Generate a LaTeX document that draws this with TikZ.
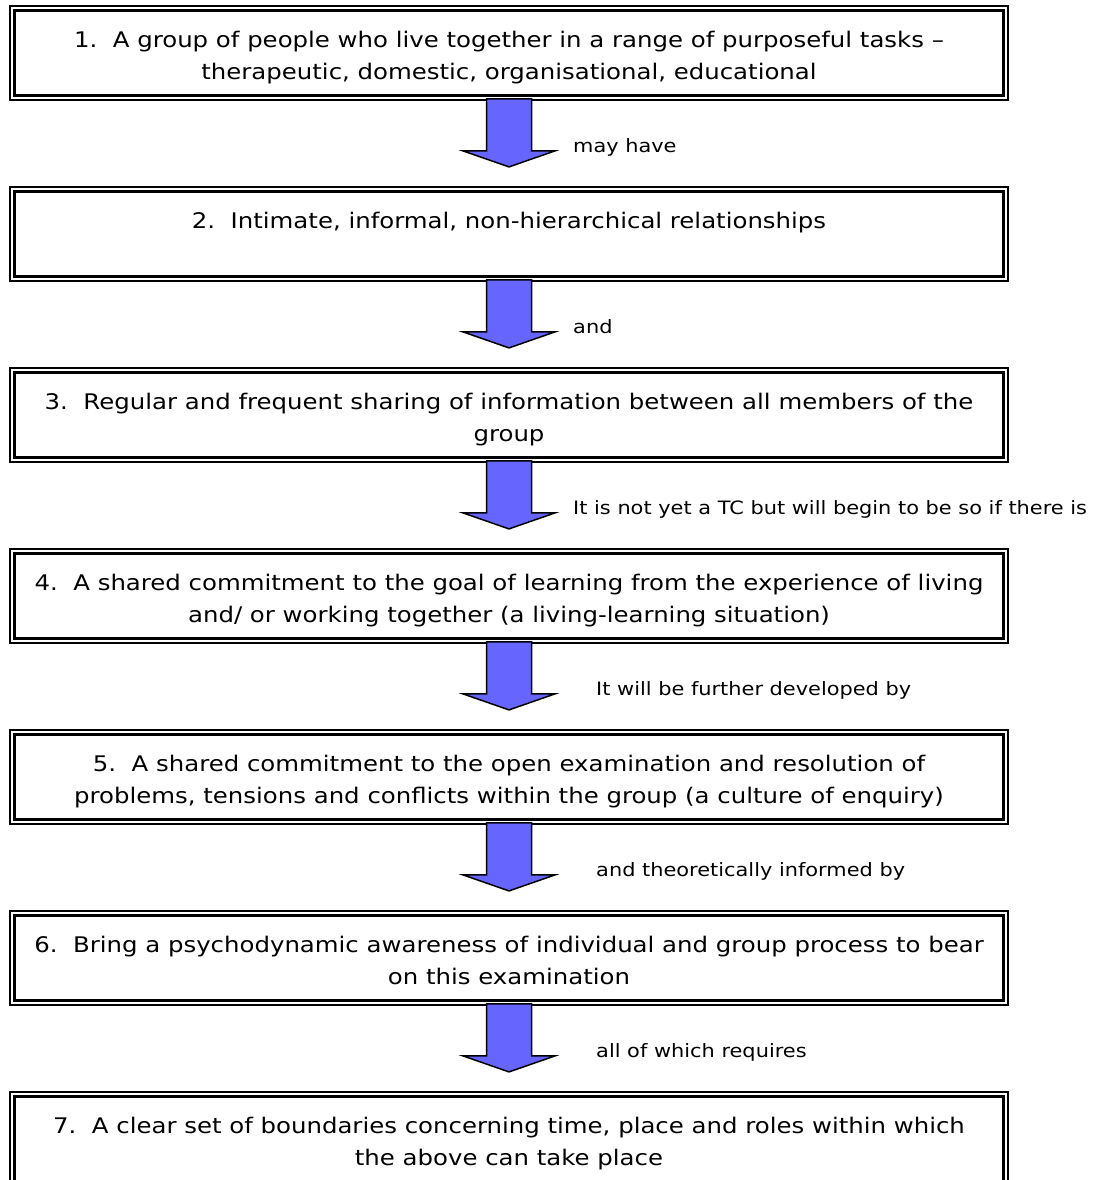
\documentclass[tikz,border=0pt]{standalone}
\usepackage{fontspec}
\setmainfont{DejaVu Sans}[FakeStretch=1.135]
\usetikzlibrary{calc}
\definecolor{arrowblue}{RGB}{102,102,255}
\tikzset{
  boxframe/.style={draw=black, line width=1.8pt, minimum width=998.2pt, minimum height=94.2pt, inner sep=0pt, outer sep=0pt},
  innerframe/.style={draw=black, line width=2.5pt},
  boxtext/.style={anchor=north, align=center, inner sep=0pt, font=\fontsize{21.5}{32}\selectfont},
  lbl/.style={anchor=base west, inner sep=0pt, font=\fontsize{18.4}{22}\selectfont},
  blockarrow/.style={draw=black, fill=arrowblue, line width=1.5pt, line join=miter},
}
\newcommand{\innerbox}[1]{\draw[innerframe] ($(#1.north west)+(4.4,4.4)$) rectangle ($(#1.south east)+(-4.4,-4.4)$);}
\newcommand{\flowarrow}[1]{\draw[blockarrow] ($(#1.south)+(-22.5,-1.2)$) -- ($(#1.south)+(-22.5,50.8)$) -- ($(#1.south)+(-46,50.8)$) -- ($(#1.south)+(0,66.8)$) -- ($(#1.south)+(46,50.8)$) -- ($(#1.south)+(22.5,50.8)$) -- ($(#1.south)+(22.5,-1.2)$) -- cycle;}
\begin{document}
\begin{tikzpicture}[x=1pt,y=-1pt]
\useasboundingbox (0,0) rectangle (1092,1180);
\fill[white] (0,0) rectangle (1092,1180);

\node[boxframe] (b1) at (509,53) {};
\node[boxframe] (b2) at (509,234) {};
\node[boxframe] (b3) at (509,415) {};
\node[boxframe] (b4) at (509,596) {};
\node[boxframe] (b5) at (509,777) {};
\node[boxframe] (b6) at (509,958) {};
\node[boxframe] (b7) at (509,1139) {};
\innerbox{b1}\innerbox{b2}\innerbox{b3}\innerbox{b4}\innerbox{b5}\innerbox{b6}\innerbox{b7}

\node[boxtext] (t1) at ($(b1.north)+(0,25.2)$) {1.~~A group of people who live together in a range of purposeful tasks –\\therapeutic, domestic, organisational, educational};
\node[boxtext] (t2) at ($(b2.north)+(0,25.2)$) {2.~~Intimate, informal, non-hierarchical relationships};
\node[boxtext] (t3) at ($(b3.north)+(0,25.2)$) {3.~~Regular and frequent sharing of information between all members of the\\group};
\node[boxtext] (t4) at ($(b4.north)+(0,25.2)$) {4.~~A shared commitment to the goal of learning from the experience of living\\and/ or working together (a living-learning situation)};
\node[boxtext] (t5) at ($(b5.north)+(0,25.2)$) {5.~~A shared commitment to the open examination and resolution of\\problems, tensions and conflicts within the group (a culture of enquiry)};
\node[boxtext] (t6) at ($(b6.north)+(0,25.2)$) {6.~~Bring a psychodynamic awareness of individual and group process to bear\\on this examination};
\node[boxtext] (t7) at ($(b7.north)+(0,25.2)$) {7.~~A clear set of boundaries concerning time, place and roles within which\\the above can take place};

\flowarrow{b1}\flowarrow{b2}\flowarrow{b3}\flowarrow{b4}\flowarrow{b5}\flowarrow{b6}

\node[lbl] (l1) at ($(b1.south)+(64,52.8)$) {may have};
\node[lbl] (l2) at ($(b2.south)+(64,52.8)$) {and};
\node[lbl] (l3) at ($(b3.south)+(64,52.8)$) {It is not yet a TC but will begin to be so if there is};
\node[lbl] (l4) at ($(b4.south)+(87,52.8)$) {It will be further developed by};
\node[lbl] (l5) at ($(b5.south)+(87,52.8)$) {and theoretically informed by};
\node[lbl] (l6) at ($(b6.south)+(87,52.8)$) {all of which requires};
\end{tikzpicture}
\end{document}
